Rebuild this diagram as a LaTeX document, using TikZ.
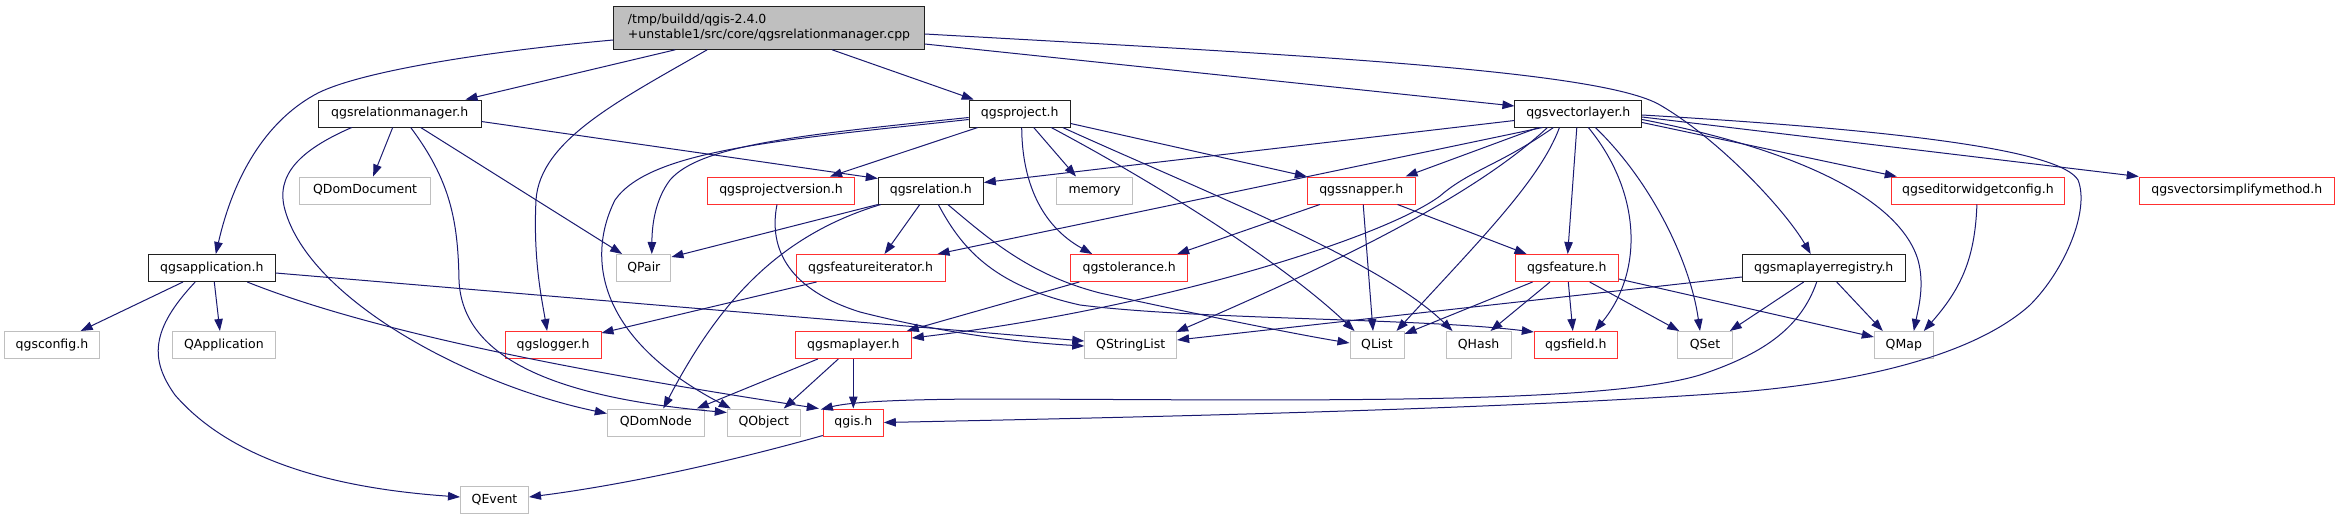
\documentclass[tikz,border=0pt]{standalone}
\usepackage{fontspec}
\setmainfont{DejaVu Sans}
\usetikzlibrary{arrows.meta,calc}
\definecolor{edgec}{HTML}{191970}
\definecolor{redb}{HTML}{FF3030}
\definecolor{greyb}{HTML}{BFBFBF}
\definecolor{rootfill}{HTML}{BFBFBF}
\definecolor{blkb}{HTML}{202020}
\begin{document}
\begin{tikzpicture}[x=1pt,y=-1pt,
  box/.style={draw, fill=white, line width=1pt, inner sep=0pt, minimum height=27pt,
    font=\fontsize{12.5}{15}\selectfont, text height=9.5pt, text depth=2.8pt},
  blk/.style={box, draw=blkb},
  rbox/.style={box, draw=redb},
  gbox/.style={box, draw=greyb},
  dep/.style={draw=edgec, line width=1pt, -{Triangle[length=12pt,width=8.5pt]}, fill=none},
]
\fill[white] (0,0) rectangle (2339,520);
\useasboundingbox (0,0) rectangle (2339,520);

% nodes
\node[draw=blkb, fill=rootfill, line width=1pt, minimum width=310.7pt, minimum height=42.6pt,
  inner sep=0pt, align=left, font=\fontsize{12.5}{15}\selectfont] (root) at (769,28)
  {/tmp/buildd/qgis-2.4.0\\+unstable1/src/core/qgsrelationmanager.cpp};
\node[blk, minimum width=162.6pt] (rm) at (399.7,113.5) {qgsrelationmanager.h};
\node[blk, minimum width=101pt] (proj) at (1019.7,113.5) {qgsproject.h};
\node[blk, minimum width=126.7pt] (vl) at (1578.3,113.5) {qgsvectorlayer.h};
\node[gbox, minimum width=130.8pt] (domdoc) at (365.1,190.5) {QDomDocument};
\node[rbox, minimum width=146.7pt] (pv) at (781,190.5) {qgsprojectversion.h};
\node[blk, minimum width=105pt] (rel) at (930.8,190.5) {qgsrelation.h};
\node[gbox, minimum width=75.8pt] (mem) at (1094.7,190.5) {memory};
\node[rbox, minimum width=107.7pt] (snap) at (1361.2,190.5) {qgssnapper.h};
\node[rbox, minimum width=173.3pt] (ewc) at (1977.9,190.5) {qgseditorwidgetconfig.h};
\node[rbox, minimum width=195.1pt] (vsm) at (2236.8,190.5) {qgsvectorsimplifymethod.h};
\node[blk, minimum width=126.7pt] (app) at (211.8,268) {qgsapplication.h};
\node[gbox, minimum width=54.3pt] (pair) at (643.8,268) {QPair};
\node[rbox, minimum width=149pt] (fi) at (870.5,268) {qgsfeatureiterator.h};
\node[rbox, minimum width=117pt] (tol) at (1129.2,268) {qgstolerance.h};
\node[rbox, minimum width=103.3pt] (feat) at (1566.7,268) {qgsfeature.h};
\node[blk, minimum width=162.7pt] (mlr) at (1823.7,268) {qgsmaplayerregistry.h};
\node[gbox, minimum width=94.5pt] (conf) at (51.9,345) {qgsconfig.h};
\node[gbox, minimum width=102.6pt] (qapp) at (223.9,345) {QApplication};
\node[rbox, minimum width=95.8pt] (log) at (553.1,345) {qgslogger.h};
\node[rbox, minimum width=116pt] (ml) at (853.3,345) {qgsmaplayer.h};
\node[gbox, minimum width=91.9pt] (sl) at (1130.7,345) {QStringList};
\node[gbox, minimum width=54pt] (qlist) at (1377,345) {QList};
\node[gbox, minimum width=65pt] (qhash) at (1478.5,345) {QHash};
\node[rbox, minimum width=83pt] (field) at (1575.8,345) {qgsfield.h};
\node[gbox, minimum width=54.6pt] (qset) at (1705,345) {QSet};
\node[gbox, minimum width=59pt] (qmap) at (1903.8,345) {QMap};
\node[gbox, minimum width=97pt] (domnode) at (655.8,422.5) {QDomNode};
\node[gbox, minimum width=73pt] (qobj) at (763.8,422.5) {QObject};
\node[rbox, minimum width=60pt] (qgis) at (853.3,422.5) {qgis.h};
\node[gbox, minimum width=68pt] (qevent) at (494.5,500) {QEvent};

% root edges
\draw[dep] ($(root.west)+(0,12)$) .. controls (480,52) and (360,72) .. (318,93) .. controls (270,118) and (235,170) .. ($(app.north)+(4,0)$);
\draw[dep] ($(root.south west)+(62,0)$) -- ($(rm.north east)+(-16,0)$);
\draw[dep] ($(root.south west)+(94,0)$) .. controls (620,100) and (540,140) .. (536,200) .. controls (533,260) and (542,300) .. ($(log.north)+(-6,0)$);
\draw[dep] ($(root.south west)+(219,0)$) -- ($(proj.north west)+(5,0)$);
\draw[dep] ($(root.east)+(0,16)$) -- ($(vl.west)+(0,-7.5)$);
\draw[dep] ($(root.east)+(0,6)$) .. controls (1300,55) and (1600,70) .. (1660,105) .. controls (1720,140) and (1785,210) .. ($(mlr.north)+(-13,0)$);

% qgsrelationmanager.h
\draw[dep] ($(rm.south)+(-7,0)$) -- ($(domdoc.north)+(8,0)$);
\draw[dep] ($(rm.south)+(21,0)$) -- ($(pair.north west)+(6,0)$);
\draw[dep] ($(rm.east)+(0,8)$) -- ($(rel.west)+(0,-12)$);
\draw[dep] ($(rm.south)+(-48,0)$) .. controls (300,150) and (275,175) .. (285,210) .. controls (310,300) and (470,385) .. ($(domnode.west)+(0,-9)$);
\draw[dep] ($(rm.south)+(11,0)$) .. controls (450,180) and (458,220) .. (459,280) .. controls (462,360) and (560,398) .. ($(qobj.west)+(0,-10)$);

% qgsapplication.h
\draw[dep] ($(app.south west)+(35,0)$) -- ($(conf.north east)+(-19,0)$);
\draw[dep] ($(app.south)+(2.5,0)$) -- ($(qapp.north)+(-4,0)$);
\draw[dep] ($(app.south)+(-16.6,0)$) .. controls (150,330) and (150,360) .. (175,395) .. controls (240,470) and (360,490) .. ($(qevent.west)+(0,-3)$);
\draw[dep] ($(app.south east)+(-28.4,0)$) .. controls (380,335) and (600,375) .. ($(qgis.north west)+(-4,0)$);
\draw[dep] ($(app.east)+(0,5)$) -- ($(sl.west)+(0,-4)$);

% qgsprojectversion.h
\draw[dep] ($(pv.south)+(-4,0)$) .. controls (768,250) and (790,290) .. (860,312) .. controls (950,335) and (1030,343) .. ($(sl.west)+(0,1)$);

% qgsproject.h
\draw[dep] ($(proj.south west)+(9,0)$) -- ($(pv.north)+(49,0)$);
\draw[dep] ($(proj.west)+(0,4)$) .. controls (800,135) and (700,145) .. (670,180) .. controls (655,200) and (652,225) .. ($(pair.north)+(8,0)$);
\draw[dep] ($(proj.west)+(0,6)$) .. controls (780,140) and (650,150) .. (615,200) .. controls (585,260) and (600,340) .. ($(qobj.north west)+(4,0)$);
\draw[dep] ($(proj.south)+(14,0)$) -- ($(mem.north)+(-18.7,0)$);
\draw[dep] ($(proj.south)+(2,0)$) .. controls (1022,180) and (1040,225) .. ($(tol.north west)+(22,0)$);
\draw[dep] ($(proj.east)+(0,10)$) -- (snap.north west);
\draw[dep] ($(proj.south east)+(-19.5,0)$) .. controls (1150,180) and (1280,260) .. ($(qlist.north west)+(5,0)$);
\draw[dep] ($(proj.south east)+(-8,0)$) .. controls (1200,190) and (1380,260) .. ($(qhash.north west)+(7,0)$);

% qgsrelation.h
\draw[dep] (rel.south west) -- ($(pair.north east)+(0,3)$);
\draw[dep] ($(rel.south west)+(3,0)$) .. controls (780,235) and (720,300) .. ($(domnode.north)+(7.5,0)$);
\draw[dep] ($(rel.south)+(-11,0)$) -- ($(fi.north)+(14,0)$);
\draw[dep] ($(rel.south)+(17,0)$) .. controls (990,240) and (1030,275) .. (1100,293) .. controls (1200,315) and (1300,335) .. ($(qlist.west)+(0,-2)$);
\draw[dep] ($(rel.south)+(7.5,0)$) .. controls (960,245) and (990,285) .. (1080,305) .. controls (1200,320) and (1420,318) .. ($(field.north west)+(0,1)$);

% qgsvectorlayer.h
\draw[dep] ($(vl.west)+(0,7)$) -- ($(rel.east)+(0,-8)$);
\draw[dep] ($(vl.south west)+(24,0)$) -- ($(snap.north east)+(-10,0)$);
\draw[dep] ($(vl.south west)+(28,0)$) -- ($(fi.north east)+(-8,0)$);
\draw[dep] ($(vl.south west)+(39,0)$) .. controls (1500,165) and (1470,170) .. (1440,196) .. controls (1380,240) and (1150,310) .. ($(ml.east)+(0,-7)$);
\draw[dep] ($(vl.south west)+(33,0)$) .. controls (1470,200) and (1320,270) .. ($(sl.north east)+(-1,1)$);
\draw[dep] ($(vl.south west)+(45,0)$) .. controls (1540,180) and (1480,240) .. ($(qlist.north east)+(-8,0)$);
\draw[dep] ($(vl.south)+(-1.5,0)$) -- ($(feat.north)+(1,0)$);
\draw[dep] ($(vl.south)+(10,0)$) .. controls (1640,190) and (1645,270) .. ($(field.north)+(19,0)$);
\draw[dep] ($(vl.south)+(17,0)$) .. controls (1650,180) and (1690,260) .. ($(qset.north)+(-5,0)$);
\draw[dep] ($(vl.east)+(0,6)$) .. controls (1800,150) and (1900,200) .. (1918,260) .. controls (1925,285) and (1918,310) .. ($(qmap.north)+(10,0)$);
\draw[dep] ($(vl.east)+(0,9)$) -- ($(ewc.north west)+(6,0)$);
\draw[dep] ($(vl.east)+(0,3.5)$) -- (vsm.north west);
\draw[dep] ($(vl.east)+(0,1.5)$) .. controls (1900,130) and (2060,150) .. (2078,180) .. controls (2090,210) and (2065,270) .. (2030,305) .. controls (1980,350) and (1880,380) .. (1740,392) .. controls (1500,410) and (1100,418) .. (qgis.east);

% qgssnapper.h
\draw[dep] ($(snap.south west)+(13,0)$) -- ($(tol.north east)+(-11,0)$);
\draw[dep] ($(snap.south)+(2,0)$) -- ($(qlist.north)+(-4,0)$);
\draw[dep] ($(snap.south east)+(-18,0)$) -- ($(feat.north west)+(12,0)$);

% qgsfeatureiterator.h, qgstolerance.h
\draw[dep] ($(fi.south west)+(21,0)$) -- ($(log.north east)+(0,2)$);
\draw[dep] ($(tol.south west)+(9,0)$) -- ($(ml.north east)+(-5,0)$);

% qgsfeature.h
\draw[dep] ($(feat.south west)+(18,0)$) -- ($(qlist.north east)+(0,3)$);
\draw[dep] ($(feat.south)+(-16.7,0)$) -- ($(qhash.north)+(12,0)$);
\draw[dep] ($(feat.south)+(1.6,0)$) -- ($(field.north)+(-3,0)$);
\draw[dep] ($(feat.south)+(23,0)$) -- ($(qset.north west)+(2,0)$);
\draw[dep] ($(feat.east)+(0,11)$) -- ($(qmap.west)+(0,-8)$);

% qgsmaplayerregistry.h
\draw[dep] ($(mlr.west)+(0,9)$) -- ($(sl.east)+(0,-5)$);
\draw[dep] ($(mlr.south)+(-20,0)$) -- ($(qset.north east)+(-3,0)$);
\draw[dep] ($(mlr.south)+(-7,0)$) .. controls (1800,330) and (1760,355) .. (1700,375) .. controls (1600,405) and (1300,400) .. (1000,399) .. controls (900,399) and (850,402) .. ($(qgis.north west)+(-2,1)$);
\draw[dep] ($(mlr.south)+(13,0)$) -- ($(qmap.north west)+(9,0)$);

% qgseditorwidgetconfig.h
\draw[dep] ($(ewc.south)+(-1,0)$) .. controls (1975,260) and (1960,290) .. ($(qmap.north east)+(-10,0)$);

% qgsmaplayer.h
\draw[dep] ($(ml.south west)+(23,0)$) -- ($(domnode.north east)+(-8,0)$);
\draw[dep] ($(ml.south)+(-15,0)$) -- ($(qobj.north east)+(-17,0)$);
\draw[dep] (ml.south) -- (qgis.north);

% qgis.h
\draw[dep] ($(qgis.south west)+(0,-1)$) .. controls (700,470) and (600,488) .. ($(qevent.east)+(0,-3)$);
\end{tikzpicture}
\end{document}
